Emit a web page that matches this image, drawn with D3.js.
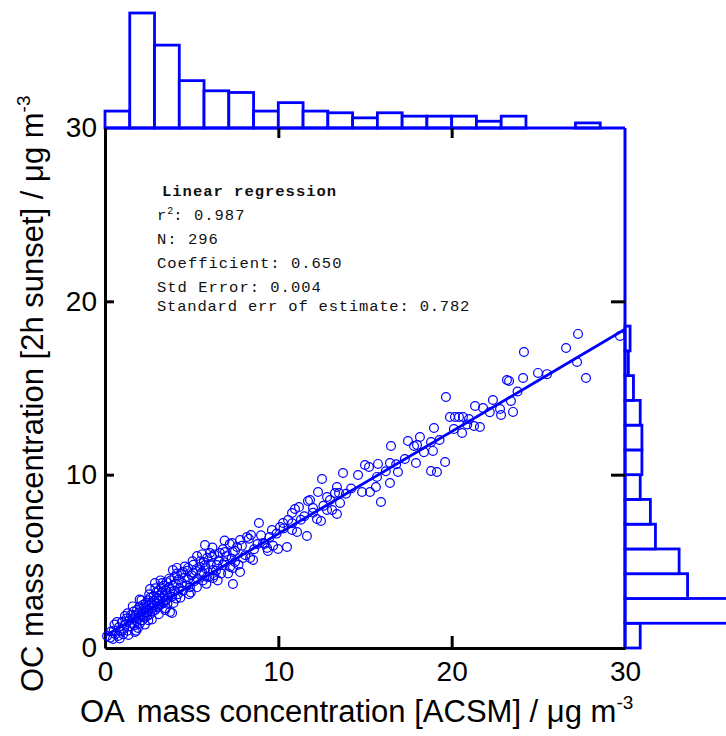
<!DOCTYPE html>
<html lang="en">
<head>
<meta charset="UTF-8">
<script src="https://d3js.org/d3.v7.min.js"></script>
<style>
  body { margin: 0; background: #fff; }
  .lab { font-family: "Liberation Sans", Arial, sans-serif; }
  .stats { font-family: "Liberation Mono", monospace; font-size: 15.5px; letter-spacing: 1px; }
</style>
</head>
<body>
<script>
const width = 726, height = 736;

// histogram counts, 21 bins over 0..30
const xCounts = [10, 68, 49, 28, 22, 21, 10, 15, 10, 9, 6, 9, 7, 7, 7, 4, 7, 0, 0, 3, 0];
const yCounts = [9, 110, 37, 32, 18, 15, 9, 10, 10, 9, 5, 2, 3, 0, 0, 0, 0, 0, 0, 0, 0];

// OA (ACSM) vs OC (2h sunset)
const points = [
  [29.71,18.00],[27.29,18.12],[26.60,17.31],[24.17,17.08],[27.23,16.50],[27.75,15.58],[24.12,15.58],[24.98,15.87],
  [23.19,15.46],[23.31,15.40],[19.67,14.48],[22.38,14.31],[23.42,14.25],[21.35,13.96],[21.81,13.85],[22.79,13.79],
  [22.85,13.44],[23.54,13.62],[19.90,13.33],[20.19,13.33],[20.42,13.33],[20.65,13.33],[21.00,13.21],[21.29,12.81],
  [21.63,12.75],[20.13,12.63],[20.60,12.40],[18.98,12.69],[18.17,12.17],[17.48,11.94],[17.83,11.65],[18.00,11.71],
  [18.81,11.88],[18.92,11.37],[16.50,11.65],[17.94,10.67],[18.81,10.21],[19.15,10.15],[19.62,10.73],[16.90,10.15],
  [16.44,10.67],[15.75,10.62],[15.23,10.44],[15.00,10.56],[14.60,9.98],[13.73,10.10],[15.69,9.87],[16.44,9.52],
  [15.63,9.29],[15.29,9.00],[14.83,9.00],[15.92,8.42],[13.38,9.29],[13.27,8.94],[13.50,8.94],[12.98,8.54],
  [13.56,8.37],[12.52,9.75],[12.29,9.00],[12.81,8.71],[11.83,8.54],[12.00,8.08],[12.81,7.96],[13.10,7.96],
  [13.38,7.73],[11.71,8.48],[12.23,7.44],[12.46,7.33],[11.65,6.46],[11.19,8.13],[10.96,8.02],[10.79,7.79],
  [8.88,7.21],[10.56,7.38],[10.27,7.21],[10.10,6.98],[9.63,6.81],[11.08,6.69],[10.79,6.81],[8.42,6.52],
  [8.19,6.40],[9.12,6.06],[7.79,6.23],[7.33,6.06],[9.35,5.77],[9.40,5.60],[9.98,5.71],[10.50,5.83],
  [7.62,5.83],[7.38,5.54],[5.77,5.94],[6.06,5.48],[6.17,5.25],[6.63,5.48],[6.92,5.54],[8.54,5.08],
  [8.37,5.19],[7.96,5.19],[7.50,4.96],[7.21,4.67],[6.81,4.79],[6.46,4.79],[6.23,4.50],[7.79,4.38],
  [7.38,4.62],[5.77,4.79],[5.60,4.38],[5.88,4.10],[6.23,4.04],[7.38,3.69],[2.88,3.75],[3.92,4.50],
  [4.15,4.62],[4.50,4.38],[4.79,4.62],[5.08,4.33],[5.48,4.67],[3.75,2.08],[3.87,2.02],[3.46,2.19],
  [1.73,0.92],[0.69,1.50],[0.98,1.50],[0.12,0.69],[0.46,0.52],[0.75,0.69],[5.31,5.31],
  [0.30,0.60],[0.35,0.95],[0.50,1.00],[0.60,0.80],[0.80,1.20],[0.90,0.95],[1.00,1.50],[1.10,1.10],
  [1.20,1.35],[1.25,1.70],[1.30,1.00],[1.40,1.60],[1.45,1.25],[1.50,1.90],[1.55,1.45],[1.60,1.70],
  [1.65,2.10],[1.70,1.30],[1.75,1.85],[1.80,1.55],[1.85,2.20],[1.90,1.75],[1.95,2.00],[2.00,1.40],
  [2.00,2.40],[2.05,1.85],[2.10,2.10],[2.15,1.60],[2.20,2.50],[2.20,1.95],[2.25,2.25],[2.30,1.75],
  [2.35,2.60],[2.40,2.05],[2.40,2.35],[2.45,1.85],[2.50,2.75],[2.50,2.20],[2.55,2.50],[2.60,1.95],
  [2.60,2.90],[2.65,2.30],[2.70,2.60],[2.75,2.10],[2.80,3.00],[2.80,2.45],[2.85,2.75],[2.90,2.20],
  [2.95,3.20],[3.00,2.55],[3.00,2.90],[3.05,2.35],[3.10,3.30],[3.10,2.70],[3.15,3.05],[3.20,2.50],
  [3.25,3.50],[3.30,2.85],[3.30,3.20],[3.35,2.60],[3.40,3.60],[3.45,3.00],[3.50,3.35],[3.50,2.75],
  [3.55,3.80],[3.60,3.10],[3.65,2.90],[3.70,3.50],[3.75,3.25],[3.80,3.90],[3.85,2.95],[3.90,3.60],
  [4.00,3.30],[4.00,4.10],[4.10,3.70],[4.20,3.10],[4.25,3.95],[4.30,3.45],[4.40,4.30],[4.45,3.75],
  [4.50,3.30],[4.60,4.05],[4.70,3.60],[4.75,4.45],[4.80,3.95],[4.90,3.50],[5.00,4.20],[5.10,4.80],
  [5.15,3.85],[5.25,4.45],[5.35,4.00],[5.50,5.00],[5.55,4.30],[5.65,3.90],[5.80,4.60],[5.90,5.20],
  [6.00,4.10],[6.10,4.85],[6.30,5.40],[6.40,4.45],[6.55,5.05],[6.70,4.30],[6.80,5.70],[6.90,4.95],
  [7.00,5.30],[7.20,6.00],[7.30,5.15],[7.50,5.60],[7.70,4.80],[7.90,5.90],[8.10,5.35],[8.30,6.30],
  [8.60,5.70],[8.80,6.00],[9.00,6.50],[9.20,6.00],[9.50,6.40],[9.70,5.90],[9.90,6.60],[10.30,6.90],
  [10.80,7.20],[11.30,7.40],[11.50,7.60],[12.00,7.80],[12.60,8.20],[13.90,8.90],[14.20,9.20],[16.20,10.20],
  [16.80,10.60],[17.30,10.90],[18.40,11.30],[19.30,12.00],[20.90,12.90],[22.20,13.60],[23.80,14.80],[25.50,15.80],
  [0.55,1.35],[0.85,0.55],[1.15,1.85],[1.35,0.75],[1.60,2.40],[1.90,1.15],[2.10,2.75],[2.30,1.35],
  [2.55,3.10],[2.70,1.65],[2.90,3.45],[3.10,1.95],[3.30,3.75],[3.50,2.30],[3.70,4.00],[3.95,2.60],
  [4.15,4.30],[4.35,2.90],[4.60,4.70],[4.85,3.10],[5.05,5.00],[5.30,3.50],[5.60,5.40],[5.85,3.70],
  [6.20,5.80],[6.50,3.90],[6.90,6.20],[7.10,4.30],[1.30,2.00],[2.00,2.80],[2.60,3.40],[3.20,3.90],
  [1.05,0.80],[1.80,1.00],[2.50,1.60],[3.60,2.55],[4.10,2.85],[4.95,3.20],[5.70,4.95],[6.30,4.20]
];

const fitIntercept = 0.69, fitSlope = 0.59;
const tickValues = [0, 10, 20, 30];

const svg = d3.select('body').append('svg')
  .attr('width', width)
  .attr('height', height);

const x = d3.scaleLinear().domain([0, 30]).range([105, 625]);
const y = d3.scaleLinear().domain([0, 30]).range([648, 128]);
const binW = 30 / xCounts.length;

// count scales for the marginal histograms
const hTop = d3.scaleLinear().domain([0, 68]).range([128, 13]);
const hRight = d3.scaleLinear().domain([0, 68]).range([625, 740]);

const blue = '#0000ff';

svg.append('g').selectAll('rect')
  .data(xCounts)
  .join('rect')
  .attr('x', (d, i) => x(i * binW))
  .attr('width', x(binW) - x(0))
  .attr('y', d => hTop(d))
  .attr('height', d => hTop(0) - hTop(d))
  .attr('fill', '#fff')
  .attr('stroke', blue)
  .attr('stroke-width', 2.8);

svg.append('g').selectAll('rect')
  .data(yCounts)
  .join('rect')
  .attr('y', (d, i) => y((i + 1) * binW))
  .attr('height', y(0) - y(binW))
  .attr('x', hRight(0))
  .attr('width', d => hRight(d) - hRight(0))
  .attr('fill', '#fff')
  .attr('stroke', blue)
  .attr('stroke-width', 2.8);

// blue baselines of the histograms
svg.append('line')
  .attr('x1', x(0)).attr('x2', x(30)).attr('y1', y(30)).attr('y2', y(30))
  .attr('stroke', blue).attr('stroke-width', 3);
svg.append('line')
  .attr('x1', x(30)).attr('x2', x(30)).attr('y1', y(30)).attr('y2', y(0))
  .attr('stroke', blue).attr('stroke-width', 3);

// axes
const gx = svg.append('g')
  .attr('transform', `translate(0,${y(0)})`)
  .call(d3.axisBottom(x).tickValues(tickValues).tickSizeInner(-12).tickSizeOuter(0).tickPadding(13));
const gy = svg.append('g')
  .attr('transform', `translate(${x(0)},0)`)
  .call(d3.axisLeft(y).tickValues(tickValues).tickSizeInner(-9).tickSizeOuter(0).tickPadding(8));

[gx, gy].forEach(g => {
  g.select('.domain').attr('stroke', '#000').attr('stroke-width', 3);
  g.selectAll('.tick line').attr('stroke', '#000').attr('stroke-width', 3)
    .filter(d => d === 0 || d === 30).remove();
  g.selectAll('.tick text')
    .attr('class', 'lab')
    .attr('font-size', 28)
    .attr('fill', '#000');
});

svg.append('g')
  .attr('transform', `translate(0,${y(30)})`)
  .call(d3.axisTop(x).tickValues([10, 20]).tickSize(-10).tickFormat(''))
  .call(g => g.select('.domain').remove())
  .call(g => g.selectAll('.tick line').attr('stroke', '#000').attr('stroke-width', 3));
svg.append('g')
  .attr('transform', `translate(${x(30)},0)`)
  .call(d3.axisRight(y).tickValues([10, 20]).tickSize(-14).tickFormat(''))
  .call(g => g.select('.domain').remove())
  .call(g => g.selectAll('.tick line').attr('stroke', '#000').attr('stroke-width', 3));

// scatter
svg.append('g').selectAll('circle')
  .data(points)
  .join('circle')
  .attr('cx', d => x(d[0]))
  .attr('cy', d => y(d[1]))
  .attr('r', 4.4)
  .attr('fill', 'none')
  .attr('stroke', blue)
  .attr('stroke-width', 1.2);

// regression line
svg.append('line')
  .attr('x1', x(0)).attr('y1', y(fitIntercept))
  .attr('x2', x(30)).attr('y2', y(fitIntercept + fitSlope * 30))
  .attr('stroke', blue)
  .attr('stroke-width', 2.8);

// regression summary
const stats = svg.append('g').attr('class', 'stats').attr('fill', '#111');
stats.append('text').attr('x', 162).attr('y', 196).attr('font-weight', 'bold').text('Linear regression');
const r2 = stats.append('text').attr('x', 157).attr('y', 220);
r2.append('tspan').text('r');
r2.append('tspan').attr('dy', -6).attr('font-size', 10).attr('letter-spacing', 0).text('2');
r2.append('tspan').attr('dy', 6).text(': 0.987');
stats.append('text').attr('x', 157).attr('y', 244).text('N: 296');
stats.append('text').attr('x', 157).attr('y', 268).text('Coefficient: 0.650');
stats.append('text').attr('x', 157).attr('y', 292).text('Std Error: 0.004');
stats.append('text').attr('x', 157).attr('y', 311).attr('letter-spacing', 0.8).text('Standard err of estimate: 0.782');

// axis titles
const xt = svg.append('text').attr('class', 'lab').attr('font-size', 31)
  .attr('x', 80).attr('y', 722).attr('fill', '#000');
xt.append('tspan').text('OA');
xt.append('tspan').attr('dx', 12).text('mass concentration [ACSM] / μg m');
xt.append('tspan').attr('dy', -13).attr('font-size', 19).text('-3');

const yt = svg.append('text').attr('class', 'lab').attr('font-size', 31)
  .attr('transform', 'translate(43,692) rotate(-90)').attr('fill', '#000');
yt.append('tspan').text('OC mass concentration [2h sunset] / μg m');
yt.append('tspan').attr('dy', -13).attr('font-size', 19).text('-3');
</script>
</body>
</html>
